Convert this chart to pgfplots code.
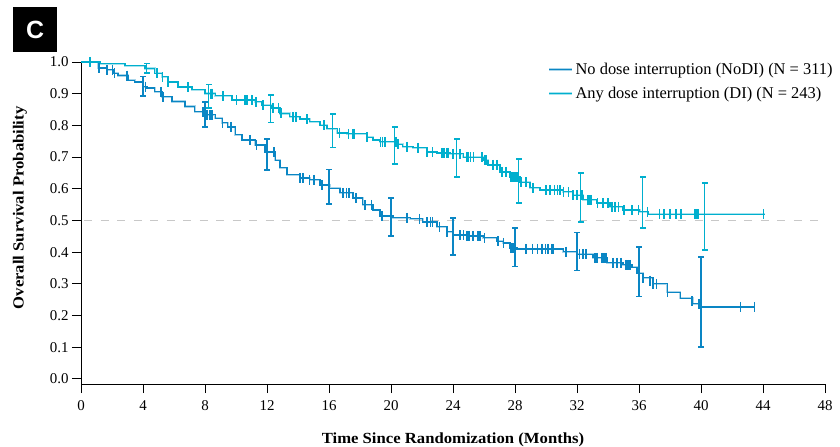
\documentclass[border=0pt]{standalone}
\usepackage{pgfplots}
\pgfplotsset{compat=1.18}
\usepackage{fontspec}
\setmainfont{Liberation Serif}
\newfontfamily\sansfam{Liberation Sans}
\newfontfamily\labfont[FakeStretch=1.08]{Liberation Serif}
\definecolor{nodi}{HTML}{0A86C4}
\definecolor{di}{HTML}{00AFCE}
\definecolor{refgray}{HTML}{C8C8C8}
\begin{document}
\begin{tikzpicture}
\path[use as bounding box] (0,0) rectangle (840bp,447bp);
\node[fill=black, text=white, font=\sansfam\bfseries\fontsize{25}{25}\selectfont, minimum width=44bp, minimum height=45bp, inner sep=0pt] at (35bp,417.5bp) {C};
\begin{axis}[
  at={(81bp,63bp)}, anchor=south west, scale only axis,
  width=744bp, height=322bp,
  xmin=0, xmax=48, ymin=-0.016, ymax=1.0,
  axis x line*=bottom, axis y line*=left,
  axis line style={black, line width=0.9bp},
  tick style={black, line width=0.9bp},
  tick align=outside, major tick length=9bp,
  xtick={0,4,...,48},
  ytick={0,0.1,0.2,0.3,0.4,0.5,0.6,0.7,0.8,0.9,1.0},
  /pgf/number format/assume math mode=true,
  yticklabel style={/pgf/number format/.cd, fixed, fixed zerofill, precision=1},
  tick label style={font=\fontsize{15}{16}\selectfont},
  xticklabel style={yshift=-4bp},
  xlabel={\textbf{Time Since Randomization (Months)}},
  ylabel={\textbf{Overall Survival Probability}},
  label style={font=\labfont\fontsize{15.5}{17}\selectfont},
  xlabel style={yshift=-15bp},
  ylabel style={at={(ticklabel cs:0.547)}, yshift=16bp},
  clip=false,
  legend style={at={(0.625,1.01)}, anchor=north west, draw=none, fill=none,
    font=\fontsize{16.5}{18}\selectfont, row sep=7bp, inner sep=2bp},
  legend cell align=left,
  legend image code/.code={\draw[#1, line width=1.3bp] (0bp,0bp) -- (23bp,0bp);},
]
% reference line
\addplot[refgray, dash pattern=on 8bp off 8.5bp, line width=0.9bp, forget plot] coordinates {(0.2,0.5) (48,0.5)};

% NoDI curve
\addplot[nodi, line width=1.1bp, const plot, mark=none, preaction={draw=nodi!35, line width=2.4bp}] coordinates {
(0,1.0) (1.10,0.981) (1.68,0.975) (2.13,0.965) (2.39,0.957) (3.03,0.943) (3.48,0.937)
(4.0,0.922) (4.26,0.918) (4.77,0.906) (5.23,0.89) (5.87,0.875) (6.71,0.859) (7.35,0.843)
(8.0,0.833) (8.65,0.823) (9.1,0.808) (9.48,0.795) (9.94,0.77) (10.39,0.754) (11.23,0.738)
(11.87,0.716) (12.52,0.69) (12.84,0.666) (13.29,0.644) (14.13,0.634) (14.77,0.628)
(15.42,0.612) (16.06,0.602) (16.71,0.587) (17.55,0.571) (18.19,0.549) (18.84,0.533)
(19.29,0.514) (20.13,0.508) (21.23,0.505) (22.06,0.495) (22.97,0.48) (23.61,0.464)
(24.0,0.454) (24.9,0.451) (25.94,0.445) (26.84,0.435) (27.23,0.429) (27.68,0.413)
(28.13,0.41) (31.1,0.401) (32.0,0.394) (33.03,0.382) (33.94,0.366) (34.97,0.36)
(35.55,0.353) (35.87,0.334) (36.26,0.319) (36.9,0.30) (37.81,0.274) (38.65,0.255)
(39.48,0.237) (39.94,0.227) (43.48,0.227)
};
\addlegendentry{No dose interruption (NoDI) (N = 311)}

% DI curve
\addplot[di, line width=1.1bp, const plot, mark=none, preaction={draw=di!35, line width=2.4bp}] coordinates {
(0,1.0) (1.23,0.994) (2.84,0.988) (4.13,0.98) (4.77,0.965) (5.23,0.953) (5.61,0.937)
(6.26,0.921) (7.16,0.912) (8.0,0.90) (8.65,0.893) (9.74,0.88) (11.23,0.874) (11.68,0.864)
(12.32,0.855) (12.84,0.838) (13.48,0.827) (14.13,0.82) (14.77,0.811) (15.42,0.801)
(15.87,0.789) (16.52,0.776) (17.16,0.773) (18.45,0.763) (18.84,0.754) (19.29,0.748)
(20.39,0.741) (20.77,0.732) (21.42,0.729) (22.32,0.716) (22.97,0.713) (23.81,0.71)
(24.65,0.70) (25.94,0.69) (26.26,0.675) (27.03,0.653) (27.68,0.637) (28.32,0.621)
(28.97,0.603) (29.61,0.596) (31.1,0.59) (31.74,0.58) (32.39,0.565) (33.29,0.555)
(34.13,0.543) (34.97,0.533) (36.06,0.527) (36.58,0.52) (44.13,0.52)
};
\addlegendentry{Any dose interruption (DI) (N = 243)}

% NoDI censor marks
\addplot[nodi, only marks, mark=|, mark size=5bp, mark options={line width=1.1bp}, forget plot] coordinates {
(1.16,0.981) (1.68,0.975) (2.06,0.975) (2.19,0.965) (2.97,0.957) (4.06,0.922) (4.16,0.922)
(5.16,0.906) (5.29,0.89) (7.87,0.843) (8.13,0.833) (8.32,0.833) (8.45,0.833) (9.1,0.808)
(9.68,0.795) (10.9,0.754) (11.3,0.738) (12.0,0.716) (12.45,0.716) (14.13,0.634) (14.32,0.634)
(14.77,0.628) (15.03,0.628) (15.55,0.612) (16.9,0.587) (17.1,0.587) (17.29,0.587) (17.74,0.571)
(18.32,0.549) (18.77,0.549) (19.42,0.514) (21.03,0.508) (21.81,0.505) (22.32,0.495)
(22.52,0.495) (22.65,0.495) (23.1,0.48) (23.61,0.464) (24.45,0.454) (24.65,0.454) (24.9,0.451)
(25.03,0.451) (25.29,0.451) (25.61,0.451) (25.74,0.451) (26.06,0.445) (26.9,0.435)
(27.23,0.429) (27.74,0.413) (27.87,0.413) (28.0,0.413) (28.65,0.41) (28.77,0.41) (29.1,0.41)
(29.48,0.41) (29.74,0.41) (29.94,0.41) (30.13,0.41) (30.39,0.41) (30.45,0.41) (31.29,0.401)
(31.35,0.401) (31.94,0.401) (32.19,0.394) (32.39,0.394) (32.52,0.394) (32.58,0.394)
(33.16,0.382) (33.29,0.382) (33.61,0.382) (33.74,0.382) (33.87,0.382) (34.32,0.366)
(34.58,0.366) (34.84,0.366) (35.16,0.36) (35.29,0.36) (35.42,0.36) (36.0,0.334) (36.26,0.319)
(36.71,0.31) (36.9,0.30) (37.1,0.30) (37.81,0.274) (39.42,0.245) (39.87,0.237) (42.52,0.227)
(43.48,0.227)
};

% DI censor marks
\addplot[di, only marks, mark=|, mark size=5bp, mark options={line width=1.1bp}, forget plot] coordinates {
(0.58,1.0) (4.9,0.965) (5.23,0.953) (5.61,0.937) (6.9,0.921) (8.39,0.90) (8.45,0.90)
(9.16,0.893) (10.06,0.88) (10.58,0.88) (10.71,0.88) (11.03,0.88) (11.29,0.874) (11.74,0.864)
(12.39,0.855) (12.77,0.855) (12.9,0.838) (13.68,0.827) (13.81,0.827) (13.87,0.827)
(14.58,0.82) (15.68,0.801) (16.65,0.776) (17.23,0.773) (17.55,0.773) (17.61,0.773)
(18.45,0.763) (19.35,0.748) (19.48,0.748) (19.61,0.748) (20.32,0.748) (20.45,0.741)
(21.03,0.732) (21.74,0.729) (22.32,0.716) (22.65,0.716) (23.29,0.713) (23.42,0.713)
(23.61,0.713) (23.68,0.713) (24.0,0.71) (24.06,0.71) (24.45,0.71) (24.9,0.70) (24.97,0.70)
(25.1,0.70) (25.35,0.70) (25.81,0.70) (25.87,0.70) (26.06,0.69) (26.13,0.69) (26.58,0.675)
(26.84,0.675) (27.16,0.653) (27.42,0.653) (27.74,0.637) (27.87,0.637) (28.0,0.637)
(28.13,0.637) (28.39,0.621) (28.71,0.621) (29.16,0.603) (30.0,0.596) (30.26,0.596)
(30.52,0.596) (30.77,0.596) (30.9,0.596) (31.1,0.59) (31.48,0.59) (31.74,0.58) (32.0,0.58)
(32.32,0.58) (32.71,0.565) (32.84,0.565) (32.9,0.565) (33.35,0.555) (33.68,0.555) (34.0,0.555)
(34.26,0.543) (34.45,0.543) (34.65,0.543) (35.03,0.533) (35.55,0.533) (35.94,0.533)
(36.52,0.527) (37.35,0.52) (37.61,0.52) (37.94,0.52) (38.06,0.52) (38.39,0.52) (38.71,0.52)
(38.77,0.52) (39.61,0.52) (39.74,0.52) (39.81,0.52) (44.06,0.52)
};

% NoDI confidence intervals (lower, upper)
\addplot[nodi, line width=1.2bp, mark=-, mark size=2.8bp, mark options={solid, line width=1.2bp}, unbounded coords=jump, forget plot]
coordinates {
(4,0.893) (4,0.953) (nan,nan)
(8,0.795) (8,0.874) (nan,nan)
(12,0.659) (12,0.757) (nan,nan)
(16,0.552) (16,0.662) (nan,nan)
(20,0.451) (20,0.571) (nan,nan)
(24,0.391) (24,0.508) (nan,nan)
(28,0.356) (28,0.476) (nan,nan)
(32,0.341) (32,0.461) (nan,nan)
(36,0.259) (36,0.416) (nan,nan)
(40,0.101) (40,0.385)
};

% DI confidence intervals (lower, upper)
\addplot[di, line width=1.2bp, mark=-, mark size=2.8bp, mark options={solid, line width=1.2bp}, unbounded coords=jump, forget plot]
coordinates {
(4.25,0.965) (4.25,0.994) (nan,nan)
(8.25,0.855) (8.25,0.930) (nan,nan)
(12.25,0.808) (12.25,0.896) (nan,nan)
(16.25,0.729) (16.25,0.836) (nan,nan)
(20.25,0.678) (20.25,0.795) (nan,nan)
(24.25,0.637) (24.25,0.757) (nan,nan)
(28.25,0.555) (28.25,0.694) (nan,nan)
(32.25,0.495) (32.25,0.650) (nan,nan)
(36.25,0.476) (36.25,0.637) (nan,nan)
(40.25,0.407) (40.25,0.618)
};
\end{axis}
\end{tikzpicture}
\end{document}
